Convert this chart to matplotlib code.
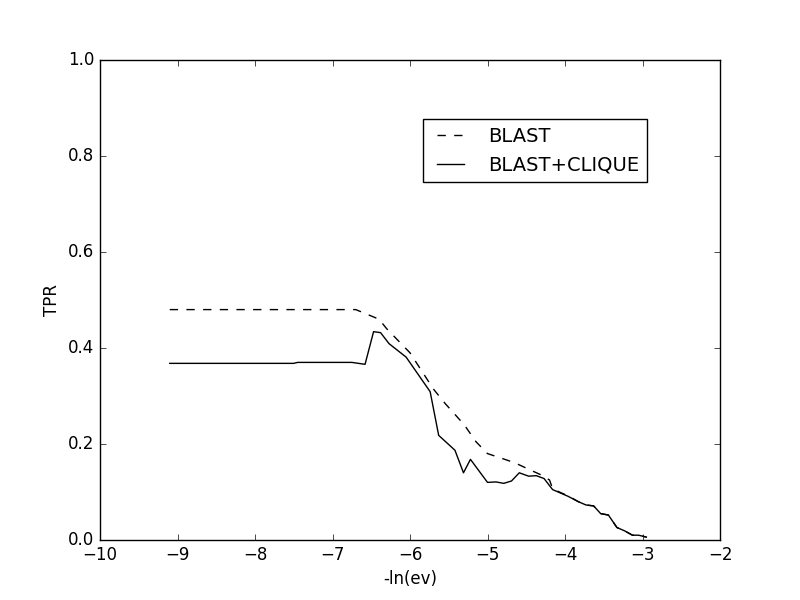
import matplotlib
matplotlib.use("Agg")
import matplotlib.pyplot as plt

blast_x = [-9.1, -6.7, -6.55, -6.4, -6.3, -6.0, -5.7, -5.55, -5.3, -5.15, -5.0, -4.85, -4.65, -4.45,
           -4.3, -4.2, -4.16, -4.06, -3.96, -3.83, -3.73, -3.63, -3.54, -3.44, -3.33, -3.23, -3.13, -3.05, -2.95]
blast_y = [0.48, 0.48, 0.47, 0.46, 0.44, 0.39, 0.315, 0.285, 0.24, 0.205, 0.18, 0.172, 0.161, 0.146,
           0.135, 0.125, 0.107, 0.099, 0.092, 0.080, 0.073, 0.071, 0.055, 0.052, 0.026, 0.019, 0.010, 0.010, 0.006]

clique_x = [-9.1, -7.5, -7.45, -6.75, -6.58, -6.47, -6.38, -6.27, -6.05, -5.74, -5.63, -5.42, -5.31, -5.22,
            -5.0, -4.89, -4.79, -4.69, -4.59, -4.47, -4.37, -4.27, -4.16, -4.06, -3.96, -3.83, -3.73,
            -3.63, -3.54, -3.44, -3.33, -3.23, -3.13, -3.05, -2.95]
clique_y = [0.368, 0.368, 0.370, 0.370, 0.366, 0.434, 0.432, 0.409, 0.381, 0.309, 0.218, 0.187, 0.140, 0.168,
            0.120, 0.121, 0.118, 0.123, 0.140, 0.133, 0.134, 0.128, 0.105, 0.098, 0.091, 0.080, 0.073,
            0.071, 0.055, 0.052, 0.026, 0.019, 0.010, 0.010, 0.006]

plt.style.use('classic')
fig = plt.figure(figsize=(8, 6), dpi=100, facecolor='white')
ax = fig.add_subplot(111)
fig.subplots_adjust(left=0.125, right=0.9, bottom=0.1, top=0.9)
ax.plot(blast_x, blast_y, 'k--', lw=1, label='BLAST')
ax.plot(clique_x, clique_y, 'k-', lw=1, label='BLAST+CLIQUE')
ax.set_xlim(-10, -2)
ax.set_ylim(0, 1.0)
ax.set_xticks([-10, -9, -8, -7, -6, -5, -4, -3, -2])
ax.set_yticks([0.0, 0.2, 0.4, 0.6, 0.8, 1.0])
ax.set_xlabel('-ln(ev)')
ax.set_ylabel('TPR')
ax.legend(loc='upper right', bbox_to_anchor=(0.8825, 0.877), borderaxespad=0, fontsize=14,
          handletextpad=0.95)
fig.savefig('out.png', dpi=100, facecolor='white')
